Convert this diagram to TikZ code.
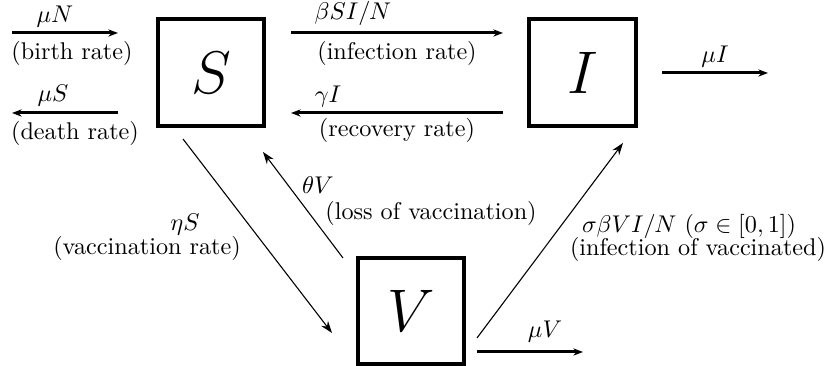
\documentclass[tikz,border=0pt]{standalone}
\usetikzlibrary{arrows.meta}
\begin{document}
\begin{tikzpicture}[x=0.4135pt,y=-0.4135pt,
  box/.style={draw,line width=1.6pt,minimum size=44pt,inner sep=0pt,font=\Huge},
  flow/.style={line width=1.25pt,-{Stealth[length=4pt,width=3pt]}},
  thinflow/.style={line width=0.45pt,-{Stealth[length=5pt,width=3.5pt]}},
  lbl/.style={inner sep=0pt}]
\useasboundingbox (0,0) rectangle (827,366);
% compartments
\node[box] (S) at (211,72.5) {$S$};
\node[box] (I) at (582.5,72.5) {$I$};
\node[box] (V) at (411,311) {$V$};
% free ends
\coordinate (bA) at (12,33);   \coordinate (bB) at (118,33);
\coordinate (dA) at (118,113); \coordinate (dB) at (12,113);
\coordinate (iA) at (291,33);  \coordinate (iB) at (503,33);
\coordinate (rA) at (503,113); \coordinate (rB) at (291,113);
\coordinate (mIA) at (662,73); \coordinate (mIB) at (768,73);
\coordinate (svA) at (183,139); \coordinate (svB) at (332,333);
\coordinate (vsA) at (343,258); \coordinate (vsB) at (263,152);
\coordinate (viA) at (477,338); \coordinate (viB) at (623,143);
\coordinate (mVA) at (477,352); \coordinate (mVB) at (583,352);
% thick flows
\draw[flow] (bA) -- (bB);
\draw[flow] (dA) -- (dB);
\draw[flow] (iA) -- (iB);
\draw[flow] (rA) -- (rB);
\draw[flow] (mIA) -- (mIB);
\draw[flow] (mVA) -- (mVB);
% thin flows
\draw[thinflow] (svA) -- (svB);
\draw[thinflow] (vsA) -- (vsB);
\draw[thinflow] (viA) -- (viB);
% labels
\node[lbl] (l1) at (55,17) {$\mu N$};
\node[lbl] (l2) at (72,53) {(birth rate)};
\node[lbl] (l3) at (53,96) {$\mu S$};
\node[lbl] (l4) at (75,133) {(death rate)};
\node[lbl] (l5) at (353,13) {$\beta SI/N$};
\node[lbl] (l6) at (397,53) {(infection rate)};
\node[lbl] (l7) at (328,97) {$\gamma I$};
\node[lbl] (l8) at (397,130) {(recovery rate)};
\node[lbl] (l9) at (715,57) {$\mu I$};
\node[lbl] (l10) at (318,185) {$\theta V$};
\node[lbl] (l11) at (431,213) {(loss of vaccination)};
\node[lbl] (l12) at (185,225) {$\eta S$};
\node[lbl] (l13) at (147,248) {(vaccination rate)};
\node[lbl] (l14) at (689,226) {$\sigma\beta VI/N~(\sigma\in[0,1])$};
\node[lbl] (l15) at (698,249) {(infection of vaccinated)};
\node[lbl] (l16) at (545,332) {$\mu V$};
\end{tikzpicture}
\end{document}
